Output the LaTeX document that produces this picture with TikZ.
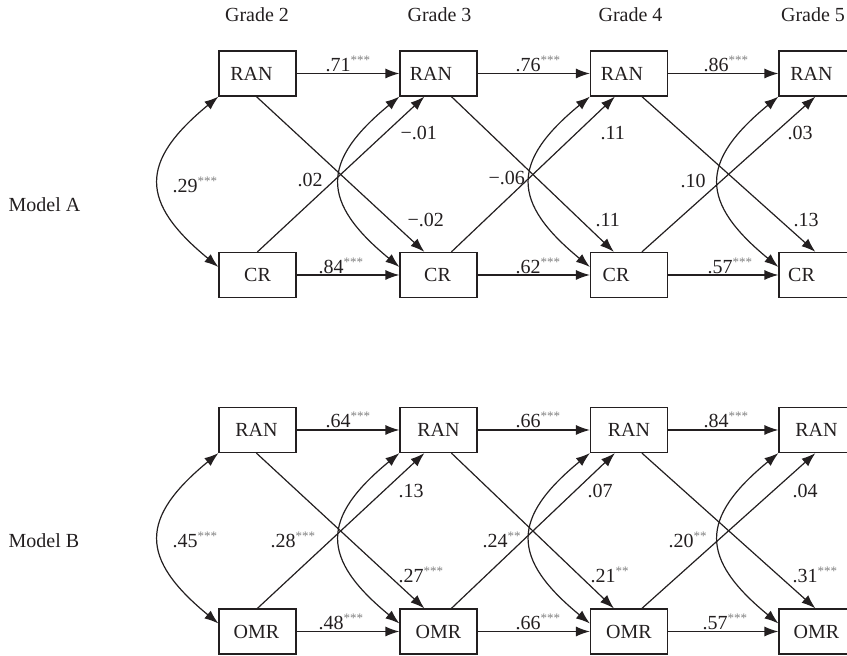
\documentclass[tikz,border=0pt]{standalone}
\usepackage{fontspec}
\setmainfont{Liberation Serif}
\usetikzlibrary{arrows.meta}
\definecolor{ink}{HTML}{231F20}
\definecolor{stargray}{HTML}{808080}
% significance stars set small, raised and grey
\newcommand\sigstars[1]{\textcolor{stargray}{\raisebox{3.5pt}{\fontsize{6.5}{7}\selectfont #1}}}

\begin{document}
\begin{tikzpicture}[x=0.5pt, y=-0.5pt, line width=0.6pt, draw=ink, text=ink,
  var/.style={draw=ink, rectangle, minimum width=38.5pt, minimum height=22.5pt,
              inner sep=0pt, font=\fontsize{10}{12}\selectfont},
  reg/.style={draw=ink, -{Latex[length=7pt,width=5pt]}},
  cov/.style={draw=ink, {Latex[length=7pt,width=5pt]}-{Latex[length=7pt,width=5pt]}},
  coef/.style={anchor=base west, inner sep=0pt, font=\fontsize{10}{12}\selectfont},
  head/.style={anchor=base, inner sep=0pt, font=\fontsize{10}{12}\selectfont},
  model/.style={anchor=base west, inner sep=0pt, font=\fontsize{10}{12}\selectfont}]
\useasboundingbox (0,0) rectangle (847,656);

% grade headings
\node[head] (g2) at (257,22) {Grade 2};
\node[head] (g3) at (439.5,22) {Grade 3};
\node[head] (g4) at (630.5,22) {Grade 4};
\node[head] (g5) at (813,22) {Grade 5};

% model names
\node[model] (ma) at (8,212) {Model A};
\node[model] (mb) at (8,548) {Model B};

% ---------------- Model A ----------------
% a trailing kern moves the label left by half its size
\node[var] (a1t) at (257.5,73.5) {RAN\kern6pt};
\node[var] (a2t) at (438.5,73.5) {RAN\kern7.5pt};
\node[var] (a3t) at (629,73.5)   {RAN\kern7pt};
\node[var] (a4t) at (817.5,73.5) {RAN\kern6pt};
\node[var] (a1b) at (257.5,275)  {CR};
\node[var] (a2b) at (438.5,275)  {CR\kern1pt};
\node[var] (a3b) at (629,275)    {CR\kern13pt};
\node[var] (a4b) at (817.5,275)  {CR\kern16pt};

% ---------------- Model B ----------------
\node[var] (b1t) at (257.5,430) {RAN\kern1pt};
\node[var] (b2t) at (438.5,430) {RAN};
\node[var] (b3t) at (629,430)   {RAN};
\node[var] (b4t) at (817.5,430) {RAN\kern1pt};
\node[var] (b1b) at (257.5,631.5) {OMR\kern1pt};
\node[var] (b2b) at (438.5,631.5) {OMR};
\node[var] (b3b) at (629,631.5)   {OMR};
\node[var] (b4b) at (817.5,631.5) {OMR\kern1pt};

\foreach \m in {a,b}{
  % autoregressive paths
  \draw[reg] (\m1t.east) -- (\m2t.west);
  \draw[reg] (\m2t.east) -- (\m3t.west);
  \draw[reg] (\m3t.east) -- (\m4t.west);
  \draw[reg] (\m1b.east) -- (\m2b.west);
  \draw[reg] (\m2b.east) -- (\m3b.west);
  \draw[reg] (\m3b.east) -- (\m4b.west);
  % cross-lagged paths
  \draw[reg] ([xshift=19pt]\m1t.south west) -- ([xshift=12.5pt]\m2b.north west);
  \draw[reg] ([xshift=19.5pt]\m1b.north west) -- ([xshift=12.5pt]\m2t.south west);
  \draw[reg] ([xshift=26pt]\m2t.south west) -- ([xshift=12pt]\m3b.north west);
  \draw[reg] ([xshift=26pt]\m2b.north west) -- ([xshift=12.5pt]\m3t.south west);
  \draw[reg] ([xshift=26pt]\m3t.south west) -- ([xshift=18.5pt]\m4b.north west);
  \draw[reg] ([xshift=26pt]\m3b.north west) -- ([xshift=18.5pt]\m4t.south west);
  % within-grade covariances
  \foreach \c in {1,2,3,4}{
    \draw[cov] (\m\c t.south west) .. controls +(-79,65) and +(-79,-65) .. ([yshift=4pt]\m\c b.west);
  }
}

% coefficients, Model A
\node[coef] (ca1) at (325,72)  {.71\sigstars{***}};
\node[coef] (ca2) at (318,274) {.84\sigstars{***}};
\node[coef] (ca3) at (172,193) {.29\sigstars{***}};
\node[coef] (ca4) at (297,187) {.02};
\node[coef] (ca5) at (400,140) {−.01};
\node[coef] (ca6) at (407,227) {−.02};
\node[coef] (ca7) at (515,72)  {.76\sigstars{***}};
\node[coef] (ca8) at (515,274) {.62\sigstars{***}};
\node[coef] (ca9) at (488,185) {−.06};
\node[coef] (ca10) at (600,140) {.11};
\node[coef] (ca11) at (595,227) {.11};
\node[coef] (ca12) at (703,72)  {.86\sigstars{***}};
\node[coef] (ca13) at (707,274) {.57\sigstars{***}};
\node[coef] (ca14) at (680,188) {.10};
\node[coef] (ca15) at (787,140) {.03};
\node[coef] (ca16) at (793,227) {.13};

% coefficients, Model B
\node[coef] (cb1) at (325,428) {.64\sigstars{***}};
\node[coef] (cb2) at (318,630) {.48\sigstars{***}};
\node[coef] (cb3) at (172,548) {.45\sigstars{***}};
\node[coef] (cb4) at (270,548) {.28\sigstars{***}};
\node[coef] (cb5) at (398,498) {.13};
\node[coef] (cb6) at (398,583) {.27\sigstars{***}};
\node[coef] (cb7) at (515,428) {.66\sigstars{***}};
\node[coef] (cb8) at (515,630) {.66\sigstars{***}};
\node[coef] (cb9) at (482,548) {.24\sigstars{**}};
\node[coef] (cb10) at (587,498) {.07};
\node[coef] (cb11) at (590,583) {.21\sigstars{**}};
\node[coef] (cb12) at (703,428) {.84\sigstars{***}};
\node[coef] (cb13) at (702,630) {.57\sigstars{***}};
\node[coef] (cb14) at (668,548) {.20\sigstars{**}};
\node[coef] (cb15) at (792,498) {.04};
\node[coef] (cb16) at (792,583) {.31\sigstars{***}};
\end{tikzpicture}
\end{document}
